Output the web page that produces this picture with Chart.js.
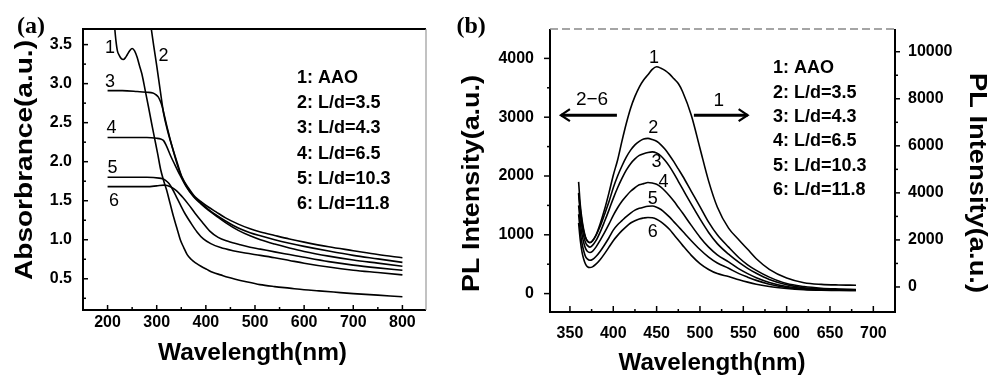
<!DOCTYPE html>
<html><head><meta charset="utf-8">
<script src="https://cdn.jsdelivr.net/npm/chart.js@4/dist/chart.umd.min.js"></script>
<style>
html,body{margin:0;padding:0;background:#fff;}
#wrap{position:relative;width:993px;height:377px;overflow:hidden;background:#fff;}
#ca{position:absolute;left:0;top:0;width:450px;height:377px;}
#cb{position:absolute;left:450px;top:0;width:543px;height:377px;}
</style></head><body>
<div id="wrap"><canvas id="ca" width="450" height="377"></canvas><canvas id="cb" width="543" height="377"></canvas></div>
<script>
// ---------------- Panel (a) data: absorbance ----------------
const a1Wave=[214,217,220,224,228,232,236,240,245,250,255,260,265,270,277,283,290,296,302,308,314,320,327,334,341,348,355,362,370,380,390,402,415,430,445,460,480,510,540,570,600,630,660,700,750,800];
const a1Abs =[3.75,3.55,3.42,3.36,3.32,3.31,3.33,3.37,3.42,3.45,3.42,3.34,3.23,3.12,2.90,2.71,2.48,2.29,2.10,1.90,1.76,1.64,1.47,1.30,1.15,1.00,0.90,0.81,0.75,0.70,0.66,0.62,0.58,0.55,0.52,0.495,0.465,0.425,0.40,0.38,0.36,0.345,0.33,0.31,0.29,0.27];
const a2Wave=[284,289,294,300,307,314,322,331,341,351,365,378,392,405,420,440,466,490,511,540,570,600,650,700,750,800];
const a2Abs =[3.9,3.70,3.48,3.23,2.92,2.62,2.40,2.20,2.00,1.81,1.66,1.55,1.48,1.42,1.36,1.28,1.20,1.14,1.10,1.055,1.01,0.97,0.91,0.86,0.81,0.77];
const a3Wave=[200,230,260,280,292,298,303,307,311,316,322,331,341,351,365,378,392,405,420,440,466,490,511,540,570,600,650,700,750,800];
const a3Abs =[2.91,2.91,2.90,2.89,2.88,2.86,2.83,2.78,2.71,2.58,2.42,2.20,1.98,1.80,1.64,1.54,1.46,1.39,1.32,1.24,1.15,1.09,1.05,1.00,0.955,0.915,0.855,0.80,0.755,0.71];
const a4Wave=[200,240,280,300,308,314,320,328,337,348,360,375,390,405,420,440,466,490,511,540,570,600,650,700,750,800];
const a4Abs =[2.31,2.31,2.31,2.30,2.29,2.27,2.20,2.08,1.96,1.82,1.68,1.55,1.46,1.38,1.31,1.22,1.12,1.05,1.00,0.945,0.895,0.85,0.79,0.74,0.70,0.66];
const a5Wave=[200,240,280,305,312,318,325,332,340,348,358,370,382,395,410,430,455,480,511,540,570,600,650,700,750,800];
const a5Abs =[1.80,1.80,1.80,1.79,1.78,1.76,1.72,1.65,1.55,1.45,1.33,1.21,1.10,1.01,0.95,0.90,0.86,0.83,0.80,0.77,0.735,0.70,0.65,0.61,0.58,0.55];
const a6Wave=[200,240,280,300,315,328,340,352,365,378,392,408,425,445,470,490,511,540,570,600,650,700,750,800];
const a6Abs =[1.68,1.68,1.68,1.69,1.70,1.68,1.63,1.55,1.45,1.34,1.23,1.11,1.03,0.98,0.935,0.905,0.88,0.845,0.81,0.775,0.72,0.675,0.64,0.61];
const aWaveTicks=[200,300,400,500,600,700,800];
const aWaveMinor=[250,350,450,550,650,750];
const aAbsTicks=[0.5,1.0,1.5,2.0,2.5,3.0,3.5];
const aAbsMinor=[0.25,0.75,1.25,1.75,2.25,2.75,3.25];
const aLabelText=["1","2","3","4","5","6"];
const aLabelWave=[205,314,205,208,210,213];
const aLabelAbs=[3.45,3.36,3.02,2.43,1.92,1.50];

// ---------------- Panel (b) data: PL intensity ----------------
const bWave=[360,362,364,366,368,370,373,376,380,385,390,395,400,405,410,415,420,425,430,435,440,445,450,455,460,465,470,475,480,490,500,510,520,533,545,555,565,580,600,620,640,660,680];
const b1PL=[4000,3300,2750,2350,2100,1950,1880,1950,2200,2700,3300,4000,4750,5400,6200,6950,7600,8100,8500,8800,9020,9250,9360,9300,9200,9050,8850,8650,8300,7300,5900,4500,3400,2500,2000,1600,1200,750,380,180,110,85,75];
const b2PL=[1900,1500,1250,1080,960,900,870,900,990,1150,1350,1560,1800,2000,2170,2320,2440,2530,2590,2630,2640,2620,2590,2530,2450,2350,2240,2120,2000,1740,1480,1215,1000,790,610,490,395,280,170,120,92,78,68];
const b3PL=[1700,1350,1120,970,870,820,790,820,900,1050,1230,1420,1620,1800,1960,2100,2210,2290,2350,2380,2400,2410,2390,2340,2260,2160,2040,1910,1780,1520,1270,1040,850,670,530,430,345,240,150,100,80,68,62];
const b4PL=[1500,1200,1000,860,770,720,700,720,790,910,1040,1180,1330,1460,1570,1660,1740,1800,1850,1870,1890,1880,1860,1810,1740,1660,1570,1470,1370,1160,960,790,660,540,420,340,270,190,120,85,70,62,58];
const b5PL=[1350,1050,850,720,630,590,567,580,630,720,830,950,1080,1170,1240,1310,1370,1420,1450,1470,1485,1490,1470,1430,1370,1300,1220,1140,1060,900,750,620,520,430,340,280,225,160,105,75,62,56,54];
const b6PL=[1200,900,700,580,500,460,443,455,500,580,680,790,900,990,1070,1140,1200,1240,1270,1285,1295,1290,1265,1220,1160,1090,1000,910,820,650,510,410,340,290,235,195,160,120,88,68,58,54,52];
const bWaveTicks=[350,400,450,500,550,600,650,700];
const bWaveMinor=[375,425,475,525,575,625,675];
const bLeftTicks=[0,1000,2000,3000,4000];
const bLeftMinor=[500,1500,2500,3500];
const bRightTicks=[0,2000,4000,6000,8000,10000];
const bRightMinor=[1000,3000,5000,7000,9000];
const bLabelText=["1","2","3","4","5","6"];
const bLabelWave=[447,446,450,458,445.5,445.5];
const bLabelPL=[4000,2809,2240,1900,1600,1049];

const legendNames=["1: AAO","2: L/d=3.5","3: L/d=4.3","4: L/d=6.5","5: L/d=10.3","6: L/d=11.8"];

// ---------------- helpers ----------------
const SANS="'Liberation Sans', Arial, Helvetica, sans-serif";
const SERIF="'Liberation Serif', 'Times New Roman', serif";
const tickFont={family:SANS,size:16,weight:'bold'};
function pts(w,v){return w.map((x,i)=>({x:x,y:v[i]}));}
function ds(w,v,axis){const d={data:pts(w,v),borderColor:'#000',borderWidth:1.6,pointRadius:0,fill:false,cubicInterpolationMode:'monotone'};if(axis)d.yAxisID=axis;return d;}
function ln(ctx,x1,y1,x2,y2){ctx.beginPath();ctx.moveTo(x1,y1);ctx.lineTo(x2,y2);ctx.stroke();}
function sText(ctx,t,cx,cy,font,rot,len,base){ctx.save();ctx.translate(cx,cy);ctx.rotate(rot);ctx.font=font;const w=ctx.measureText(t).width;ctx.scale(len?len/w:1,1);ctx.textAlign='center';ctx.textBaseline=base||'middle';ctx.fillStyle='#000';ctx.fillText(t,0,0);ctx.restore();}
function setTicks(arr){return function(s){s.ticks=arr.map(v=>({value:v}));};}
function arrow(ctx,x1,x2,y,headAt){ctx.lineWidth=3;ln(ctx,x1,y,x2,y);ctx.lineWidth=2.2;const hx=headAt==='left'?x1:x2,d=headAt==='left'?1:-1;ctx.beginPath();ctx.moveTo(hx+d*9,y-6);ctx.lineTo(hx,y);ctx.lineTo(hx+d*9,y+6);ctx.stroke();}

// ---------------- Chart (a) ----------------
const decoA={id:'decoA',afterDraw(c){
  const ctx=c.ctx,a=c.chartArea,x=c.scales.x,y=c.scales.y;
  ctx.save();
  ctx.strokeStyle='#000';ctx.lineWidth=2;
  ln(ctx,a.left,a.top-1,a.left,a.bottom+1);ln(ctx,a.left,a.bottom,a.right,a.bottom);ln(ctx,a.left,a.top,a.right,a.top);
  ctx.strokeStyle='#999';ctx.lineWidth=1.2;ln(ctx,a.right,a.top,a.right,a.bottom);
  ctx.strokeStyle='#000';ctx.lineWidth=1.5;
  aWaveTicks.forEach(v=>{const p=x.getPixelForValue(v);ln(ctx,p,a.bottom,p,a.bottom-5);});
  aWaveMinor.forEach(v=>{const p=x.getPixelForValue(v);ln(ctx,p,a.bottom,p,a.bottom-3);});
  aAbsTicks.forEach(v=>{const p=y.getPixelForValue(v);ln(ctx,a.left,p,a.left+5,p);});
  aAbsMinor.forEach(v=>{const p=y.getPixelForValue(v);ln(ctx,a.left,p,a.left+3,p);});
  ctx.fillStyle='#000';ctx.textAlign='center';ctx.textBaseline='middle';ctx.font='18px '+SANS;
  aLabelText.forEach((t,i)=>ctx.fillText(t,x.getPixelForValue(aLabelWave[i]),y.getPixelForValue(aLabelAbs[i])));
  ctx.textAlign='left';ctx.font='bold 18px '+SANS;
  legendNames.forEach((t,i)=>ctx.fillText(t,a.left+214,a.top+49+i*25.2));
  sText(ctx,'Absorbrance(a.u.)',25,160,'bold 24px '+SANS,-Math.PI/2,240);
  sText(ctx,'Wavelength(nm)',252.5,360,'bold 24px '+SANS,0,189,'alphabetic');
  ctx.textAlign='left';ctx.textBaseline='alphabetic';ctx.font='bold 24px '+SERIF;ctx.fillText('(a)',17,33);
  ctx.restore();
}};
new Chart(document.getElementById('ca'),{
  type:'line',
  data:{datasets:[ds(a1Wave,a1Abs),ds(a2Wave,a2Abs),ds(a3Wave,a3Abs),ds(a4Wave,a4Abs),ds(a5Wave,a5Abs),ds(a6Wave,a6Abs)]},
  options:{responsive:false,animation:false,devicePixelRatio:1,
    layout:{padding:{left:0,right:24,top:29,bottom:0}},
    plugins:{legend:{display:false},tooltip:{enabled:false}},
    scales:{
      x:{type:'linear',min:150,max:848,afterFit(s){s.height=67;},afterBuildTicks:setTicks(aWaveTicks),
         grid:{display:false,drawTicks:false},border:{display:false},
         ticks:{font:tickFont,color:'#000',padding:3,maxRotation:0,callback:v=>String(v)}},
      y:{type:'linear',min:0.1,max:3.7,afterFit(s){s.width=83;},afterBuildTicks:setTicks(aAbsTicks),
         grid:{display:false,drawTicks:false},border:{display:false},
         ticks:{font:tickFont,color:'#000',padding:11,callback:v=>Number(v).toFixed(1)}}
    }},
  plugins:[decoA]
});

// ---------------- Chart (b) ----------------
const decoB={id:'decoB',afterDraw(c){
  const ctx=c.ctx,a=c.chartArea,x=c.scales.x,y=c.scales.y,y2=c.scales.y2;
  ctx.save();
  ctx.strokeStyle='#000';ctx.lineWidth=2;
  ln(ctx,a.left,a.top,a.left,a.bottom+1);ln(ctx,a.left,a.bottom,a.right,a.bottom);ln(ctx,a.right,a.top,a.right,a.bottom+1);
  ctx.strokeStyle='#888';ctx.lineWidth=1.5;ctx.setLineDash([8,4]);ln(ctx,a.left,a.top,a.right,a.top);ctx.setLineDash([]);
  ctx.strokeStyle='#000';ctx.lineWidth=1.5;
  bWaveTicks.forEach(v=>{const p=x.getPixelForValue(v);ln(ctx,p,a.bottom,p,a.bottom-6);});
  bWaveMinor.forEach(v=>{const p=x.getPixelForValue(v);ln(ctx,p,a.bottom,p,a.bottom-3);});
  bLeftTicks.forEach(v=>{const p=y.getPixelForValue(v);ln(ctx,a.left-6,p,a.left,p);});
  bLeftMinor.forEach(v=>{const p=y.getPixelForValue(v);ln(ctx,a.left-3,p,a.left,p);});
  bRightTicks.forEach(v=>{const p=y2.getPixelForValue(v);ln(ctx,a.right,p,a.right+5,p);});
  bRightMinor.forEach(v=>{const p=y2.getPixelForValue(v);ln(ctx,a.right,p,a.right+3,p);});
  ctx.fillStyle='#000';ctx.textAlign='center';ctx.textBaseline='middle';ctx.font='18px '+SANS;
  bLabelText.forEach((t,i)=>ctx.fillText(t,x.getPixelForValue(bLabelWave[i]),y.getPixelForValue(bLabelPL[i])));
  ctx.font='19px '+SANS;
  ctx.fillText('2\u22126',x.getPixelForValue(375.5),y.getPixelForValue(3289));
  ctx.fillText('1',x.getPixelForValue(521.7),y.getPixelForValue(3272));
  const ay=y.getPixelForValue(3035);
  arrow(ctx,x.getPixelForValue(339.6),x.getPixelForValue(404.2),ay,'left');
  arrow(ctx,x.getPixelForValue(493),x.getPixelForValue(555),ay,'right');
  ctx.textAlign='left';ctx.font='bold 18px '+SANS;
  legendNames.forEach((t,i)=>ctx.fillText(t,a.left+223,a.top+39.5+i*24.3));
  sText(ctx,'PL Intensity(a.u.)',22.5,183.5,'bold 24px '+SANS,-Math.PI/2,217);
  sText(ctx,'PL Intensity(a.u.)',527,183,'bold 24px '+SANS,Math.PI/2,220);
  sText(ctx,'Wavelength(nm)',262,370,'bold 24px '+SANS,0,187,'alphabetic');
  ctx.textAlign='left';ctx.textBaseline='alphabetic';ctx.font='bold 24px '+SERIF;ctx.fillText('(b)',6.5,33);
  ctx.restore();
}};
new Chart(document.getElementById('cb'),{
  type:'line',
  data:{datasets:[ds(bWave,b1PL,'y2'),ds(bWave,b2PL,'y'),ds(bWave,b3PL,'y'),ds(bWave,b4PL,'y'),ds(bWave,b5PL,'y'),ds(bWave,b6PL,'y')]},
  options:{responsive:false,animation:false,devicePixelRatio:1,
    layout:{padding:{left:0,right:0,top:29,bottom:0}},
    plugins:{legend:{display:false},tooltip:{enabled:false}},
    scales:{
      x:{type:'linear',min:327,max:725,afterFit(s){s.height=65;},afterBuildTicks:setTicks(bWaveTicks),
         grid:{display:false,drawTicks:false},border:{display:false},
         ticks:{font:tickFont,color:'#000',padding:12,maxRotation:0,callback:v=>String(v)}},
      y:{type:'linear',position:'left',min:-313,max:4500,afterFit(s){s.width=100;},afterBuildTicks:setTicks(bLeftTicks),
         grid:{display:false,drawTicks:false},border:{display:false},
         ticks:{font:tickFont,color:'#000',padding:16,callback:v=>String(v)}},
      y2:{type:'linear',position:'right',min:-1064,max:10966,afterFit(s){s.width=98;},afterBuildTicks:setTicks(bRightTicks),
         grid:{display:false,drawTicks:false},border:{display:false},
         ticks:{font:tickFont,color:'#000',padding:13,callback:v=>String(v)}}
    }},
  plugins:[decoB]
});
</script>
</body></html>
